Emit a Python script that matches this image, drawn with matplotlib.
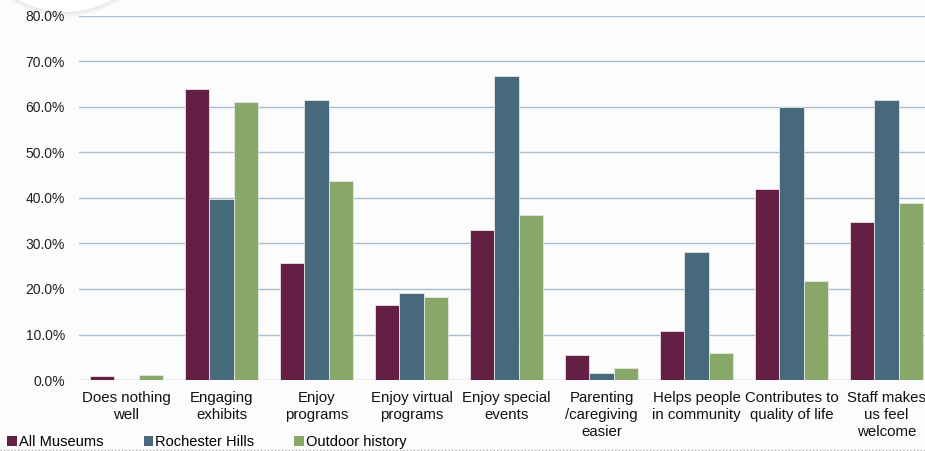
import matplotlib.pyplot as plt
import numpy as np
from matplotlib.patches import Patch, Circle
from matplotlib.lines import Line2D
from matplotlib.ticker import FuncFormatter

plt.rcParams['font.family'] = ['Liberation Sans', 'DejaVu Sans']

categories = [
    "Does nothing\nwell",
    "Engaging\nexhibits",
    "Enjoy\nprograms",
    "Enjoy virtual\nprograms",
    "Enjoy special\nevents",
    "Parenting\n/caregiving\neasier",
    "Helps people\nin community",
    "Contributes to\nquality of life",
    "Staff makes\nus feel\nwelcome",
]
all_museums = [0.8, 64.0, 25.7, 16.5, 33.0, 5.6, 10.8, 42.0, 34.7]
rochester_hills = [0.0, 39.8, 61.5, 19.1, 66.8, 1.5, 28.1, 60.0, 61.5]
outdoor_history = [1.0, 61.1, 43.7, 18.2, 36.3, 2.6, 6.0, 21.8, 38.9]

series = [
    ("All Museums", all_museums, "#641f45"),
    ("Rochester Hills", rochester_hills, "#466a7c"),
    ("Outdoor history", outdoor_history, "#88a86a"),
]

W, H = 925, 451
fig = plt.figure(figsize=(W / 100, H / 100), dpi=100, facecolor="#fcfcfc")
ax = fig.add_axes([79 / W, (H - 380) / H, (W - 79) / W, 364 / H])
ax.set_facecolor("#fcfcfc")

x = np.arange(len(categories))
bar_width = 0.255
for i, (name, vals, color) in enumerate(series):
    ax.bar(x + (i - 1) * bar_width, vals, bar_width, color=color,
           edgecolor="#e6e6e6", linewidth=0.6, zorder=3)

ax.set_ylim(0, 80)
ax.set_xlim(-0.5, 8.405)
ax.set_yticks(np.arange(0, 81, 10))
ax.yaxis.set_major_formatter(FuncFormatter(lambda v, _: f"{v:.1f}%"))
ax.grid(axis="y", color="#a9bccb", linewidth=1.0, zorder=0)
for s in ax.spines.values():
    s.set_visible(False)
ax.tick_params(axis="y", length=0, pad=10, labelsize=10, labelcolor="#222222")
ax.tick_params(axis="x", length=0, pad=8, labelsize=10.8, labelcolor="#111111")
ax.set_xticks(x)
ax.set_xticklabels(categories, linespacing=1.28)

handles = [Patch(facecolor=c, edgecolor="none", label=n) for n, _, c in series]
fig.legend(handles=handles, loc="lower left", bbox_to_anchor=(0.0, -0.012), ncol=3,
           frameon=False, fontsize=10.5, handlelength=0.65, handleheight=0.65,
           handletextpad=0.15, columnspacing=2.75, borderaxespad=0.1)

fig.add_artist(Line2D([0, 1], [1.5 / H, 1.5 / H], color="#aaaaaa",
                      linestyle=(0, (1, 1.5)), linewidth=1.0))

# soft white disc in the top-left corner, kept behind the axes labels
cx, cy, r = 65, H + 84, 96
for k, a in enumerate([0.015, 0.02, 0.03, 0.04, 0.05]):
    fig.add_artist(Circle((cx, cy), r + 6 - k * 1.2, transform=None,
                          facecolor="#888888", edgecolor="none", alpha=a, zorder=-2))
fig.add_artist(Circle((cx, cy), r, transform=None, facecolor="white",
                      edgecolor="none", zorder=-1))

fig.savefig("out.png", dpi=100, facecolor=fig.get_facecolor())
